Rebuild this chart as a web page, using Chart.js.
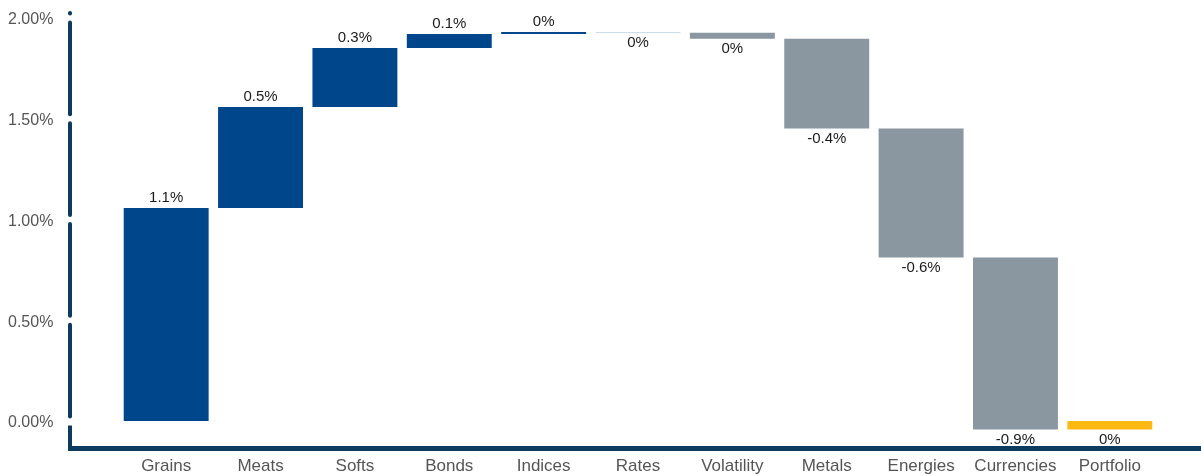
<!DOCTYPE html>
<html>
<head>
<meta charset="utf-8">
<script src="https://cdn.jsdelivr.net/npm/chart.js@4"></script>
<style>
  html, body { margin: 0; padding: 0; background: #fff; }
  #wrap { width: 1201px; height: 476px; position: relative; }
</style>
</head>
<body>
<div id="wrap"><canvas id="waterfall"></canvas></div>
<script>
const categories = ['Grains', 'Meats', 'Softs', 'Bonds', 'Indices', 'Rates', 'Volatility', 'Metals', 'Energies', 'Currencies', 'Portfolio'];
// contribution of each sector, in % (Portfolio is the total)
const changes = [1.057, 0.501, 0.293, 0.070, 0.010, -0.004, -0.030, -0.445, -0.640, -0.854];
const yTicks = [0, 0.5, 1, 1.5, 2];
const barColors = ['#00468b', '#00468b', '#00468b', '#00468b', '#00468b', '#bcd0e6', '#8a96a0', '#8a96a0', '#8a96a0', '#8a96a0', '#fdb913'];

const FONT = '"Liberation Sans", Arial, sans-serif';
const AXIS = '#0c3b5e';

let running = 0;
const floating = changes.map((c) => {
  const start = running;
  running += c;
  return [start, running];
});
const total = running;
floating.push([0, total]);
const deltas = [...changes, total];

const fmt = (v) => `${Math.round(v * 10) / 10}%`;

const barLabels = {
  id: 'barLabels',
  afterDatasetsDraw(chart) {
    const { ctx } = chart;
    const meta = chart.getDatasetMeta(0);
    ctx.save();
    ctx.font = `15px ${FONT}`;
    ctx.fillStyle = '#1a1a1a';
    ctx.textAlign = 'center';
    meta.data.forEach((bar, i) => {
      const { x, y, base } = bar.getProps(['x', 'y', 'base'], true);
      const d = deltas[i];
      if (d >= 0) {
        ctx.textBaseline = 'bottom';
        ctx.fillText(fmt(d), x, Math.min(y, base) - 3);
      } else {
        ctx.textBaseline = 'top';
        ctx.fillText(fmt(d), x, Math.max(y, base) + 3);
      }
    });
    ctx.restore();
  }
};

const axisLines = {
  id: 'axisLines',
  afterDraw(chart) {
    const { ctx, chartArea } = chart;
    const yScale = chart.scales.y;
    const ax = 70;
    ctx.save();
    ctx.strokeStyle = AXIS;
    ctx.fillStyle = AXIS;
    ctx.lineWidth = 4;
    ctx.lineCap = 'round';
    const stops = yTicks.map((v) => yScale.getPixelForValue(v)).sort((a, b) => a - b);
    let from = chartArea.top + 2;
    stops.forEach((p) => {
      ctx.beginPath();
      ctx.moveTo(ax, from);
      ctx.lineTo(ax, Math.max(from, p - 4.5));
      ctx.stroke();
      from = p + 4.5;
    });
    ctx.lineCap = 'butt';
    ctx.beginPath();
    ctx.moveTo(ax, from);
    ctx.lineTo(ax, chartArea.bottom);
    ctx.stroke();
    ctx.fillRect(ax - 2, chartArea.bottom - 2, chart.width - ax + 2, 5);
    ctx.restore();
  }
};

new Chart(document.getElementById('waterfall'), {
  type: 'bar',
  data: {
    labels: categories,
    datasets: [{
      data: floating,
      backgroundColor: barColors,
      borderWidth: 0,
      barPercentage: 0.9,
      categoryPercentage: 1.0
    }]
  },
  options: {
    responsive: true,
    maintainAspectRatio: false,
    animation: false,
    layout: { padding: { top: 11, right: 44, left: 8, bottom: 0 } },
    plugins: { legend: { display: false }, tooltip: { enabled: false } },
    scales: {
      x: {
        grid: { display: false, drawTicks: false },
        border: { display: false },
        ticks: { color: '#555', font: { family: FONT, size: 17 }, padding: 8, maxRotation: 0, autoSkip: false },
        afterFit: (scale) => { scale.height = 28; }
      },
      y: {
        min: -0.134,
        max: 2.035,
        grid: { display: false, drawTicks: false },
        border: { display: false },
        afterBuildTicks: (scale) => { scale.ticks = yTicks.map((v) => ({ value: v })); },
        ticks: { color: '#555', font: { family: FONT, size: 16 }, padding: 0, crossAlign: 'far', labelOffset: 2, callback: (v) => `${v.toFixed(2)}%` },
        afterFit: (scale) => { scale.width = 111; }
      }
    }
  },
  plugins: [barLabels, axisLines]
});
</script>
</body>
</html>
